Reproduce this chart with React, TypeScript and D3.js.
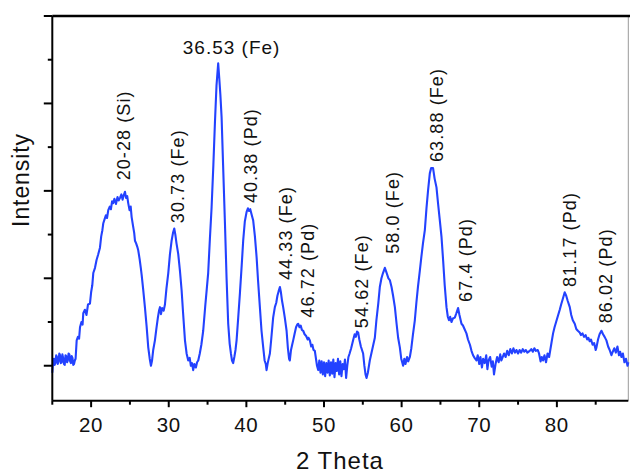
import React from "react";
import * as d3 from "d3";

// XRD scan: [2θ, intensity]
const scan: [number, number][] = [
  [15.0, -8], [15.1, 4], [15.2, 8], [15.3, 1], [15.4, 3], [15.5, 12], [15.6, 10], [15.7, 2], [15.8, 5], [15.9, 14],
  [16.0, 12], [16.1, 3], [16.2, 4], [16.3, 13], [16.4, 9], [16.5, 2], [16.6, 1], [16.7, 12], [16.8, 11], [16.9, 4],
  [17.0, 6], [17.1, 14], [17.2, 13], [17.3, 5], [17.4, 3], [17.5, 11], [17.6, 9], [17.7, 1], [17.8, 2], [17.9, 6],
  [18.0, 8], [18.14, 29], [18.3, 33], [18.45, 31], [18.57, 44], [18.75, 50], [18.9, 47], [18.99, 60], [19.2, 64],
  [19.4, 58], [19.6, 70], [19.85, 71], [20.0, 84], [20.15, 92], [20.28, 106], [20.5, 112], [20.7, 121], [20.9, 127],
  [21.14, 135], [21.3, 148], [21.45, 155], [21.57, 163], [21.75, 168], [21.9, 172], [22.05, 169], [22.21, 178],
  [22.4, 182], [22.55, 179], [22.7, 188], [22.85, 186], [23.0, 191], [23.2, 185], [23.4, 193], [23.55, 189],
  [23.72, 192], [23.9, 196], [24.05, 190], [24.2, 195], [24.36, 199], [24.5, 192], [24.65, 194], [24.78, 186],
  [24.95, 178], [25.1, 182], [25.22, 170], [25.4, 160], [25.55, 152], [25.65, 143], [25.8, 140], [25.95, 136],
  [26.07, 132], [26.25, 122], [26.4, 112], [26.51, 104], [26.7, 88], [26.93, 67], [27.15, 45], [27.36, 21],
  [27.55, 8], [27.71, 0], [27.85, 6], [28.0, 18], [28.22, 29], [28.4, 42], [28.6, 55], [28.75, 63], [28.87, 67],
  [29.0, 59], [29.15, 66], [29.35, 63], [29.51, 70], [29.7, 88], [29.94, 106], [30.15, 127], [30.37, 143],
  [30.55, 152], [30.71, 157], [30.85, 150], [31.0, 140], [31.22, 128], [31.45, 108], [31.66, 86], [31.85, 60],
  [32.09, 29], [32.3, 14], [32.51, 6], [32.7, 9], [32.85, 0], [33.0, 3], [33.15, -5], [33.3, 2], [33.5, -2],
  [33.65, 4], [33.8, 6], [34.0, 14], [34.2, 24], [34.44, 40], [34.7, 68], [34.9, 88], [35.08, 106], [35.3, 145],
  [35.52, 181], [35.75, 230], [35.95, 278], [36.15, 320], [36.37, 346], [36.5, 330], [36.65, 310], [36.81, 284],
  [37.0, 230], [37.24, 163], [37.45, 100], [37.66, 48], [37.85, 25], [38.01, 14], [38.15, 6], [38.3, 3],
  [38.45, 10], [38.6, 18], [38.74, 29], [38.95, 55], [39.17, 83], [39.4, 115], [39.59, 143], [39.8, 165],
  [40.03, 176], [40.2, 180], [40.35, 177], [40.5, 179], [40.7, 172], [40.88, 166], [41.1, 148], [41.32, 124],
  [41.5, 98], [41.74, 67], [41.95, 40], [42.17, 21], [42.35, 6], [42.5, 2], [42.6, -5], [42.75, 3], [42.9, 9],
  [43.03, 14], [43.2, 30], [43.45, 55], [43.67, 67], [43.85, 72], [44.0, 80], [44.15, 85], [44.32, 90],
  [44.45, 84], [44.6, 74], [44.74, 67], [44.95, 55], [45.18, 40], [45.35, 20], [45.5, 8], [45.6, 6], [45.75, 18],
  [45.9, 24], [46.03, 29], [46.2, 36], [46.4, 44], [46.55, 47], [46.67, 48], [46.85, 44], [47.0, 46], [47.15, 41],
  [47.32, 40], [47.5, 36], [47.7, 34], [47.9, 30], [48.0, 32], [48.18, 29], [48.35, 22], [48.5, 24], [48.65, 18],
  [48.82, 17], [49.0, 6], [49.1, 0], [49.25, -5], [49.4, 6], [49.55, -8], [49.7, 5], [49.85, -10], [50.0, 4],
  [50.15, -12], [50.3, 3], [50.45, -8], [50.6, 6], [50.75, -11], [50.9, 4], [51.05, -9], [51.2, 7], [51.35, -13],
  [51.5, 3], [51.65, -6], [51.8, 8], [51.95, -10], [52.1, 5], [52.25, -12], [52.4, 2], [52.55, -4], [52.7, 7],
  [52.85, -14], [53.0, 0], [53.15, 10], [53.3, 14], [53.5, 20], [53.75, 29], [53.95, 36], [54.1, 33], [54.25, 39],
  [54.4, 38], [54.55, 30], [54.75, 22], [55.04, 14], [55.2, 0], [55.35, -10], [55.48, -14], [55.65, -8], [55.9, 6],
  [56.1, 14], [56.3, 22], [56.55, 32], [56.75, 52], [57.0, 72], [57.19, 90], [57.4, 100], [57.6, 106], [57.84, 112],
  [58.0, 108], [58.15, 104], [58.3, 100], [58.48, 98], [58.7, 90], [58.9, 80], [59.13, 67], [59.35, 48],
  [59.55, 32], [59.77, 21], [59.95, 8], [60.1, 3], [60.19, 0], [60.35, 8], [60.5, 2], [60.7, 10], [60.85, 5],
  [61.06, 10], [61.25, 20], [61.45, 35], [61.7, 52], [61.9, 72], [62.1, 90], [62.35, 109], [62.55, 125],
  [62.75, 140], [62.99, 155], [63.2, 180], [63.4, 200], [63.63, 220], [63.8, 226], [64.05, 226], [64.25, 214],
  [64.49, 204], [64.7, 185], [64.9, 168], [65.14, 147], [65.35, 120], [65.55, 92], [65.78, 67], [65.95, 56],
  [66.1, 52], [66.25, 56], [66.42, 50], [66.6, 54], [66.85, 55], [67.05, 60], [67.27, 66], [67.45, 58],
  [67.71, 48], [67.9, 46], [68.1, 42], [68.35, 37], [68.55, 30], [68.8, 24], [69.0, 17], [69.2, 12], [69.4, 9],
  [69.64, 6], [69.8, 12], [70.0, 2], [70.15, 10], [70.35, -2], [70.5, 8], [70.7, 3], [70.9, 12], [71.05, -4],
  [71.2, 6], [71.4, 10], [71.6, -1], [71.75, 5], [71.9, -10], [72.1, 2], [72.3, 10], [72.5, 4], [72.7, 13],
  [72.85, 6], [73.03, 10], [73.2, 14], [73.4, 10], [73.6, 17], [73.8, 12], [74.0, 19], [74.2, 14], [74.4, 20],
  [74.6, 15], [74.79, 18], [75.0, 14], [75.2, 18], [75.4, 15], [75.6, 19], [75.8, 16], [76.0, 18], [76.2, 15],
  [76.5, 17], [76.7, 19], [76.9, 16], [77.1, 20], [77.3, 17], [77.53, 18], [77.7, 14], [77.9, 5], [78.05, 10],
  [78.22, 6], [78.4, 12], [78.6, 4], [78.8, 14], [79.0, 10], [79.15, 18], [79.3, 26], [79.51, 37], [79.7, 44],
  [79.9, 50], [80.1, 56], [80.37, 64], [80.55, 70], [80.75, 76], [81.01, 84], [81.2, 80], [81.4, 74], [81.66, 67],
  [81.85, 58], [82.05, 52], [82.3, 48], [82.5, 42], [82.7, 40], [82.94, 38], [83.1, 35], [83.3, 37], [83.5, 33],
  [83.7, 35], [83.9, 30], [84.05, 32], [84.23, 28], [84.4, 30], [84.6, 24], [84.8, 26], [85.0, 18], [85.1, 21],
  [85.3, 30], [85.5, 36], [85.74, 40], [85.95, 36], [86.15, 33], [86.38, 29], [86.6, 22], [86.8, 18], [87.03, 12],
  [87.2, 16], [87.4, 20], [87.6, 15], [87.8, 22], [88.0, 12], [88.15, 16], [88.31, 10], [88.5, 14], [88.7, 4],
  [88.9, 8], [89.1, 0], [89.2, 4],
];

const xTicks = [20, 30, 40, 50, 60, 70, 80];
const xMinorTicks = [15, 25, 35, 45, 55, 65, 75, 85];
const yTicks = [0, 100, 200, 300, 400];
const yMinorTicks = [50, 150, 250, 350];

const peakLabels = ["20-28 (Si)", "30.73 (Fe)", "40.38 (Pd)", "44.33 (Fe)", "46.72 (Pd)", "54.62 (Fe)", "58.0 (Fe)", "63.88 (Fe)", "67.4 (Pd)", "81.17 (Pd)", "86.02 (Pd)"];
const peakLabelTheta = [24.23, 31.18, 40.58, 45.09, 47.92, 54.87, 58.86, 64.53, 68.26, 81.66, 86.29];
const peakLabelIntensity = [212, 163, 186, 98, 55, 43, 128, 233, 73, 90, 48.5];

const topLabel = "36.53 (Fe)";
const topLabelTheta = 38.1;
const topLabelIntensity = 357;

const W = 630;
const H = 473;
const FONT = "'Liberation Sans', Arial, Helvetica, sans-serif";
const BLUE = "#2342ff";

export default function App() {
  const x = d3.scaleLinear().domain([15, 89.2]).range([52.3, 628.3]);
  const y = d3.scaleLinear().domain([-40, 400]).range([400.7, 16]);
  const line = d3
    .line<[number, number]>()
    .x((d) => x(d[0]))
    .y((d) => y(d[1]));

  const x0 = x.range()[0];
  const x1 = x.range()[1];
  const yb = y.range()[0];
  const yt = y.range()[1];

  return (
    <svg
      width={W}
      height={H}
      style={{ position: "absolute", left: 0, top: 0, background: "#fff" }}
      fontFamily={FONT}
    >
      <rect x={0} y={0} width={W} height={H} fill="#fff" />
      {/* right border */}
      <line x1={x1} x2={x1} y1={yt} y2={yb} stroke="#999" strokeWidth={1} />
      {/* data */}
      <path d={line(scan) || ""} fill="none" stroke={BLUE} strokeWidth={2.1} strokeLinejoin="round" />
      {/* top frame */}
      <line x1={x0} x2={W} y1={yt} y2={yt} stroke="#000" strokeWidth={2.5} />
      {/* axes */}
      <line x1={x0} x2={x0} y1={yt} y2={yb} stroke="#000" strokeWidth={2} />
      <line x1={x0} x2={x1} y1={yb} y2={yb} stroke="#000" strokeWidth={2} />
      {xTicks.map((t) => (
        <g key={"xt" + t}>
          <line x1={x(t)} x2={x(t)} y1={yb} y2={yb + 6.5} stroke="#000" strokeWidth={2} />
          <text x={x(t)} y={431.5} textAnchor="middle" fontSize={20.5} letterSpacing={0.6} fill="#111">
            {t}
          </text>
        </g>
      ))}
      {xMinorTicks.map((t) => (
        <line key={"xm" + t} x1={x(t)} x2={x(t)} y1={yb} y2={yb + 4} stroke="#000" strokeWidth={2} />
      ))}
      {yTicks.map((t) => (
        <line key={"yt" + t} x1={x0 - 8.5} x2={x0} y1={y(t)} y2={y(t)} stroke="#000" strokeWidth={2} />
      ))}
      {yMinorTicks.map((t) => (
        <line key={"ym" + t} x1={x0 - 4.5} x2={x0} y1={y(t)} y2={y(t)} stroke="#000" strokeWidth={2} />
      ))}
      {/* axis titles */}
      <text x={340} y={468.5} textAnchor="middle" fontSize={24} letterSpacing={1} fill="#111">
        2 Theta
      </text>
      <text
        transform={`translate(28.5,180) rotate(-90)`}
        textAnchor="middle"
        fontSize={23}
        letterSpacing={0.9}
        fill="#111"
      >
        Intensity
      </text>
      {/* peak labels */}
      {peakLabels.map((s, i) => (
        <text
          key={s}
          transform={`translate(${x(peakLabelTheta[i]) + 6.3},${y(peakLabelIntensity[i])}) rotate(-90)`}
          textAnchor="start"
          fontSize={18}
          letterSpacing={1.1}
          fill="#111"
        >
          {s}
        </text>
      ))}
      <text
        x={x(topLabelTheta)}
        y={y(topLabelIntensity)}
        textAnchor="middle"
        fontSize={19}
        letterSpacing={1}
        fill="#111"
      >
        {topLabel}
      </text>
    </svg>
  );
}
